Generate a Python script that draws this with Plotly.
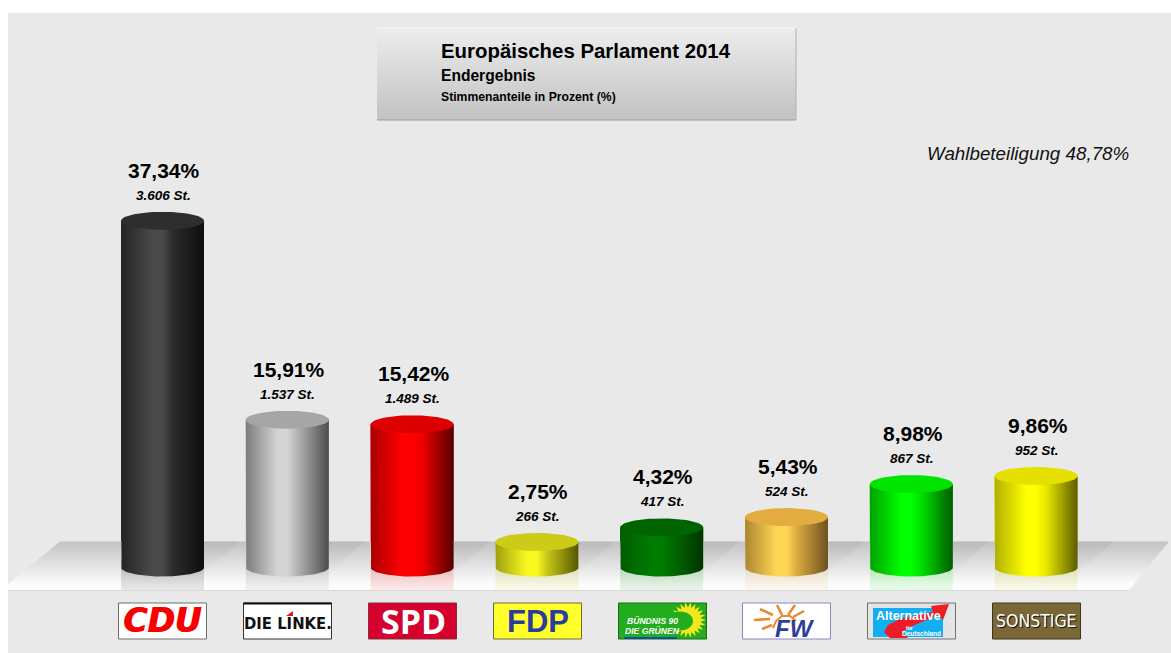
import math
import plotly.graph_objects as go

# ---- data -------------------------------------------------------------
parties = ["CDU", "DIE LINKE.", "SPD", "FDP", "BÜNDNIS 90/DIE GRÜNEN", "FW", "AfD", "SONSTIGE"]
percent = [37.34, 15.91, 15.42, 2.75, 4.32, 5.43, 8.98, 9.86]
votes = ["3.606", "1.537", "1.489", "266", "417", "524", "867", "952"]

# ---- palette: (left, highlight, mid, right, top) ----------------------
shades = [
    ("#242424", "#4a4a4a", "#2c2c2c", "#0e0e0e", "#2e2e2e"),
    ("#7c7c7c", "#d4d4d4", "#b4b4b4", "#4c4c4c", "#a6a6a6"),
    ("#a80000", "#ff0000", "#f00000", "#560000", "#dc0000"),
    ("#a0a010", "#f8f820", "#c8c818", "#565600", "#cbcb18"),
    ("#005c00", "#007c00", "#006c00", "#003400", "#006400"),
    ("#ac8630", "#ffd654", "#dcac40", "#6c5220", "#e2ad3e"),
    ("#00a000", "#00ff00", "#00e000", "#005c00", "#00e400"),
    ("#b0b000", "#ffff00", "#e8e800", "#5c5c00", "#e6e000"),
]
tint = ["0,0,0", "90,90,90", "230,0,0", "190,190,0", "0,130,0", "225,170,60", "0,225,0", "190,190,0"]

# ---- pixel geometry of the scales --------------------------------------
X0, DX = 162.5, 124.8     # pixel of first category, pixels per category
Y0, DY = 567.5, 9.285     # pixel of value 0, pixels per percent point
W, H = 1171, 653
xp = lambda px: (px - X0) / DX
yp = lambda py: (Y0 - py) / DY
RX, RY = 41.5 / DX, 9.0 / DY
FONT = "Liberation Sans"
N = 40

fig = go.Figure()
n = len(percent)

def poly(xs, ys, **kw):
    fig.add_trace(go.Scatter(x=xs, y=ys, mode="lines", line=dict(width=0), fill="toself",
                             hoverinfo="skip", showlegend=False, **kw))

def px_poly(pts, **kw):
    poly([xp(p[0]) for p in pts], [yp(p[1]) for p in pts], **kw)

# the bars themselves
fig.add_trace(go.Bar(x=list(range(n)), y=percent, width=83 / DX,
                     marker=dict(color=[s[4] for s in shades], line=dict(width=0)),
                     customdata=parties, hovertemplate="%{customdata}: %{y}%<extra></extra>",
                     showlegend=False))

# floor
px_poly([(60, 541.5), (8, 584), (8, 590), (1129, 590), (1169, 541.5), (60, 541.5)],
        fillgradient=dict(type="vertical",
                          colorscale=[[0, "#ffffff"], [0.12, "#fcfcfc"], [1, "#c2c2c2"]]))
# floor shadows
for i in range(n):
    R = X0 + DX * i + 41.5
    px_poly([(R, 541.5), (R + 36, 541.5), (R, 573), (R, 541.5)],
            fillgradient=dict(type="vertical",
                              colorscale=[[0, "rgba(0,0,0,0.01)"], [1, "rgba(0,0,0,0.05)"]]))

# reflections
for i in range(n):
    c = X0 + DX * i
    px_poly([(c - 41.5, 560), (c + 41.5, 560), (c + 41.5, 590), (c - 41.5, 590), (c - 41.5, 560)],
            fillgradient=dict(type="vertical",
                              colorscale=[[0, f"rgba({tint[i]},0.09)"], [1, f"rgba({tint[i]},0.2)"]]))

# cylinder sides and tops
for i, v in enumerate(percent):
    s = shades[i]
    xs, ys = [i - RX], [v]
    for k in range(N + 1):
        t = math.pi * k / N
        xs.append(i - RX * math.cos(t))
        ys.append(-RY * math.sin(t))
    xs += [i + RX, i - RX]
    ys += [v, v]
    poly(xs, ys, fillgradient=dict(type="horizontal",
                                   colorscale=[[0, s[0]], [0.38, s[1]], [0.5, s[1]], [0.62, s[2]], [1, s[3]]]))
for i, v in enumerate(percent):
    xs, ys = [], []
    for k in range(2 * N + 1):
        t = math.pi * k / N
        xs.append(i + RX * math.cos(t))
        ys.append(v + RY * math.sin(t))
    poly(xs, ys, fillcolor=shades[i][4])

# title box
px_poly([(377, 28), (796, 28), (796, 120), (377, 120), (377, 28)],
        fillgradient=dict(type="vertical", colorscale=[[0, "#c2c2c2"], [1, "#ededed"]]))

annotations = []
shapes = []

def text(px, py, s, size, color="#000000", weight="normal", style="normal",
         family=FONT, anchor="center"):
    annotations.append(dict(x=xp(px), y=yp(py), text=s, showarrow=False, xanchor=anchor, yanchor="middle",
                            font=dict(family=family, size=size, color=color, weight=weight, style=style)))

def rect(x0, y0, x1, y1, fill, line=None, lw=1):
    shapes.append(dict(type="rect", xref="x", yref="y", x0=xp(x0), x1=xp(x1), y0=yp(y0), y1=yp(y1),
                       fillcolor=fill, line=dict(color=line or fill, width=lw if line else 0)))

def path(pts, fill=None, line=None, lw=1, close=True):
    d = "M " + " L ".join(f"{xp(a):.4f},{yp(b):.4f}" for a, b in pts) + (" Z" if close else "")
    shapes.append(dict(type="path", xref="x", yref="y", path=d, fillcolor=fill or "rgba(0,0,0,0)",
                       line=dict(color=line or "rgba(0,0,0,0)", width=lw)))

# floor front edge, title box edges
path([(8, 590.5), (1129, 590.5)], line="#d8d8d8", lw=1, close=False)
path([(377, 120), (796, 120)], line="#9c9c9c", lw=1, close=False)
path([(796, 28), (796, 120)], line="#b0b0b0", lw=1, close=False)
path([(377, 28), (796, 28)], line="#f6f6f6", lw=1, close=False)

text(439, 51, "Europäisches Parlament 2014", 20.4, weight="bold", anchor="left")
text(439, 75.5, "Endergebnis", 15.6, weight="bold", anchor="left")
text(439, 97, "Stimmenanteile in Prozent (%)", 12.2, weight="bold", anchor="left")
text(1131, 153, "Wahlbeteiligung 48,78%", 18.8, color="#111111", style="italic", anchor="right")

# value labels
for i, v in enumerate(percent):
    c = X0 + DX * i
    py = Y0 - v * DY
    text(c + 1.5, py - 50.5, f"{v:.2f}".replace(".", ",") + "%", 21, weight="bold")
    text(c + 0.5, py - 25.5, votes[i] + " St.", 13.5, style="italic", weight="bold")

# ---- party logos ---------------------------------------------------------
TOP, BOT = 603, 639
# CDU
rect(118.5, TOP, 206.5, BOT, "#ffffff", "#6e6e6e", 1)
text(162, 620.5, "CDU", 33, color="#f70000", weight="bold", style="italic", family="DejaVu Sans")
text(163, 620.5, "CDU", 33, color="#f70000", weight="bold", style="italic", family="DejaVu Sans")
# DIE LINKE.
rect(243.5, TOP, 331.5, BOT, "#ffffff", "#333333", 1)
path([(243.5, 603.5), (331.5, 603.5)], line="#111111", lw=2, close=False)
text(288, 623.5, "DIE LINKE.", 16.5, color="#111111", weight="bold", family="DejaVu Sans Condensed")
path([(286, 616), (293, 611), (293, 616)], fill="#e8141c")
# SPD
rect(368.5, TOP, 456.5, BOT, "#d4002d", "#8c2a3c", 1)
text(413, 621, "SPD", 34, color="#ffffff", weight="bold", family="Open Sans")
# FDP
rect(493.5, TOP, 581.5, BOT, "#ffff2a", "#6a6a40", 1)
text(537.5, 621, "FDP", 31, color="#2a3c9c", weight="bold", family="Liberation Sans")
# Greens
rect(618.5, TOP, 706.5, BOT, "#22ac1e", "#1a6a1a", 1)
rect(624, 637, 677, 639, "#0f4ea8")
star = []
for k in range(44):
    r = 18 if k % 2 == 0 else 12.5
    a = math.pi * k / 22
    star.append((688 + r * math.cos(a), 620 + r * math.sin(a)))
path(star, fill="#f4e81c")
hole = [(680 + 13 * math.cos(math.pi * k / 16), 621 + 9.5 * math.sin(math.pi * k / 16)) for k in range(32)]
path(hole, fill="#22ac1e")
text(625, 621, "BÜNDNIS 90", 8.6, color="#ffffff", weight="bold", style="italic", anchor="left")
text(623, 631, "DIE GRÜNEN", 8.6, color="#ffffff", weight="bold", style="italic", anchor="left")
# FW
rect(742.5, TOP, 830.5, BOT, "#ffffff", "#8888c4", 1)
rays = [((754, 620), (770, 619)), ((760, 609), (773, 615)), ((777, 605), (782, 615)),
        ((795, 605), (788, 615)), ((804, 611), (793, 617)), ((762, 629), (772, 625))]
for a, b in rays:
    path([a, b], line="#e8892c", lw=2.5, close=False)
path([(773, 628), (776, 621), (782, 616), (790, 616), (796, 621)], line="#e8892c", lw=2, close=False)
text(795, 628.5, "FW", 24, color="#2f3e98", weight="bold", style="italic")
# AfD
rect(867.5, TOP, 955.5, BOT, "#e4e4e4", "#707070", 1)
rect(873, 608, 943, 637, "#12aef0")
path([(890, 638), (884, 632), (888, 625), (900, 619), (933, 612), (931, 606), (949, 604),
      (943, 620), (938, 615), (910, 627), (902, 632), (908, 638)], fill="#ee1c25")
text(908, 615.5, "Alternative", 12.5, color="#ffffff", weight="bold")
text(904, 628, "für", 5, color="#ffffff", weight="bold", anchor="left")
text(921, 633, "Deutschland", 6.5, color="#ffffff", weight="bold")
# SONSTIGE
rect(992.5, TOP, 1080.5, BOT, "#7b6736", "#3c3520", 1)
text(1037.6, 621.6, "SONSTIGE", 17.5, color="#111111", family="DejaVu Sans Condensed")
text(1036.5, 620.5, "SONSTIGE", 17.5, color="#ffffff", family="DejaVu Sans Condensed")

fig.update_layout(
    width=W, height=H, margin=dict(l=8, r=0, t=13, b=0),
    paper_bgcolor="#ffffff", plot_bgcolor="#e9e9e9",
    barmode="overlay", showlegend=False,
    xaxis=dict(visible=False, range=[xp(8), xp(W)], fixedrange=True),
    yaxis=dict(visible=False, range=[yp(H), yp(13)], fixedrange=True),
    annotations=annotations, shapes=shapes,
)
fig.write_html("out.html", config=dict(displayModeBar=False),
               post_script="document.body.style.margin='0';document.body.style.overflow='hidden';")
